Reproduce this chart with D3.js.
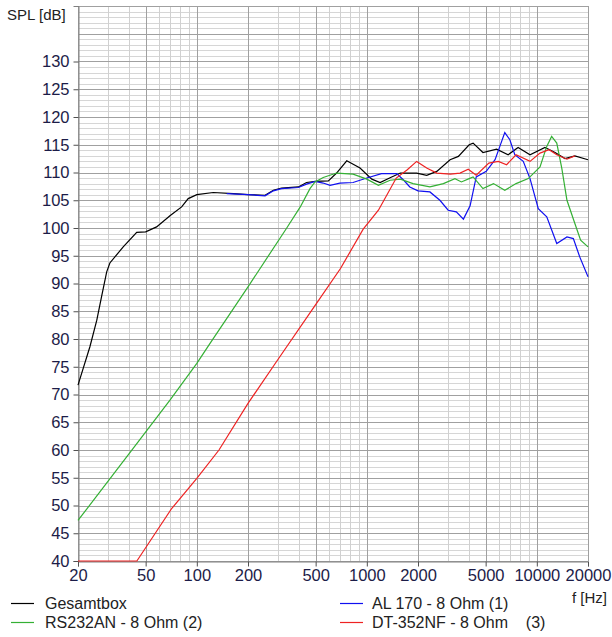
<!DOCTYPE html>
<html>
<head>
<meta charset="utf-8">
<script src="https://cdn.jsdelivr.net/npm/d3@7"></script>
<style>
  body { margin: 0; background: #fff; }
  svg text { font-family: "Liberation Sans", Arial, sans-serif; }
</style>
</head>
<body>
<svg id="chart" width="612" height="637"></svg>
<script>
// SPL frequency response chart

// tick labels
const xTicks = [20, 50, 100, 200, 500, 1000, 2000, 5000, 10000, 20000];
const yTicks = [40, 45, 50, 55, 60, 65, 70, 75, 80, 85, 90, 95, 100, 105, 110, 115, 120, 125, 130];

// Gesamtbox (black)
const fBlack = [20, 23.5, 25.8, 27.5, 29.5, 30.8, 36.9, 44.3, 50, 58, 69.5, 81.4, 89, 100, 125, 164, 200, 252, 282,
  315, 396, 442, 500, 594, 664, 762, 912, 1070, 1197, 1400, 1575, 1964, 2250, 2580, 3088, 3456, 4000, 4220,
  4820, 5800, 6780, 7760, 9120, 11160, 12800, 14640, 16740, 20000];
const dbBlack = [71.7, 78.6, 83.4, 87.6, 92.1, 93.7, 96.6, 99.2, 99.3, 100.2, 102.2, 103.8, 105.3, 106.0, 106.4, 106.2, 106.0, 105.9, 106.8,
  107.2, 107.4, 108.2, 108.4, 108.5, 109.9, 112.1, 110.8, 108.8, 108.2, 109.2, 109.9, 109.9, 109.5, 110.2, 112.3, 112.9, 115.0, 115.3,
  113.6, 114.2, 113.2, 114.5, 113.2, 114.5, 113.6, 112.5, 113.0, 112.3];

// AL 170 - 8 Ohm (1) (blue)
const fBlue = [150, 200, 252, 282, 315, 396, 442, 496, 554, 608, 694, 830, 1000, 1220, 1500, 1650, 1790, 2000, 2350,
  2690, 3010, 3360, 3700, 4050, 4400, 5040, 5680, 6060, 6480, 6940, 7420, 8320, 9120, 10200, 11440, 13100,
  15040, 16400, 17880, 20000];
const dbBlue = [106.2, 106.0, 105.8, 106.7, 107.1, 107.3, 107.9, 108.4, 108.1, 107.7, 108.1, 108.2, 109.0, 109.8, 109.8, 108.6, 107.4, 106.7, 106.5,
  105.0, 103.2, 102.9, 101.6, 104.0, 109.2, 110.2, 112.3, 114.7, 117.2, 115.9, 113.2, 112.0, 108.9, 103.5, 102.0, 97.2,
  98.4, 98.1, 94.8, 91.2];

// RS232AN - 8 Ohm (2) (green)
const fGreen = [20, 42, 69.5, 100, 119.6, 200, 338, 406, 463, 496, 554, 664, 830, 1000, 1170, 1370, 1575, 1870, 2350,
  2820, 3300, 3600, 4000, 4220, 4820, 5560, 6480, 7550, 8900, 10440, 11440, 12220, 13100, 14020, 15040,
  16740, 18100, 20000];
const dbGreen = [47.3, 60.2, 69.0, 75.6, 79.2, 89.4, 100.0, 103.8, 107.1, 108.3, 109.1, 109.9, 109.7, 108.8, 107.7, 108.6, 108.8, 108.0, 107.4,
  108.0, 108.9, 108.3, 108.9, 109.2, 107.1, 108.0, 106.8, 108.0, 108.9, 111.0, 114.7, 116.5, 115.3, 110.8, 105.0,
  100.8, 97.8, 96.6];

// DT-352NF - 8 Ohm (3) (red)
const fRed = [20, 44.4, 71.3, 100, 135, 200, 300, 500, 700, 952, 1170, 1490, 1730, 1964, 2250, 2580, 3100, 3534,
  3950, 4400, 5220, 5940, 6640, 7550, 9120, 10440, 11800, 13100, 15040, 16740];
const dbRed = [40, 40, 49.5, 54.9, 60.0, 68.4, 76.3, 86.2, 92.7, 99.8, 103.2, 109.0, 110.5, 112.0, 110.8, 109.9, 109.7, 109.9,
  110.6, 109.5, 111.7, 112.0, 111.4, 113.2, 112.0, 113.5, 114.1, 113.2, 112.4, 113.0];

const seriesNames = ['Gesamtbox', 'AL 170 - 8 Ohm (1)', 'RS232AN - 8 Ohm (2)', 'DT-352NF - 8 Ohm    (3)'];
const seriesColors = ['#000000', '#1010f0', '#34b034', '#ee2222'];

const svg = d3.select('#chart');
const plotL = 78, plotR = 588, plotT = 6, plotB = 561;

const x = d3.scaleLog().domain([20, 20000]).range([plotL, plotR]);
const y = d3.scaleLinear().domain([40, 140]).range([plotB, plotT]);

// grid — minor lines first, then major
const minorX = [];
for (let dec = 10; dec <= 10000; dec *= 10)
  for (let k = 1; k <= 9; k++) { const v = k * dec; if (v >= 20 && v <= 20000) minorX.push(v); }
const minorY = d3.range(40, 141, 1);
const majorY = d3.range(40, 141, 5);

const grid = svg.append('g').attr('shape-rendering', 'crispEdges');
grid.selectAll('.hmin').data(minorY).enter().append('line')
  .attr('x1', plotL).attr('x2', plotR)
  .attr('y1', d => Math.round(y(d)) + 0.5).attr('y2', d => Math.round(y(d)) + 0.5)
  .attr('stroke', '#d6d6d6');
grid.selectAll('.vmin').data(minorX).enter().append('line')
  .attr('y1', plotT).attr('y2', plotB)
  .attr('x1', d => Math.round(x(d)) + 0.5).attr('x2', d => Math.round(x(d)) + 0.5)
  .attr('stroke', '#d0d0d0');
grid.selectAll('.hmaj').data(majorY).enter().append('line')
  .attr('x1', plotL).attr('x2', plotR)
  .attr('y1', d => Math.round(y(d)) + 0.5).attr('y2', d => Math.round(y(d)) + 0.5)
  .attr('stroke', '#a0a0a0');
grid.selectAll('.vmaj').data(xTicks).enter().append('line')
  .attr('y1', plotT).attr('y2', plotB)
  .attr('x1', d => Math.round(x(d)) + 0.5).attr('x2', d => Math.round(x(d)) + 0.5)
  .attr('stroke', '#a0a0a0');

// axes
const yAxis = svg.append('g').attr('transform', `translate(${plotL + 0.5},0)`)
  .call(d3.axisLeft(y).tickValues(yTicks).tickSize(5).tickPadding(4).tickFormat(d3.format('d')));
const xAxis = svg.append('g').attr('transform', `translate(0,${plotB + 0.5})`)
  .call(d3.axisBottom(x).tickValues(xTicks).tickSize(5).tickPadding(3).tickFormat(d3.format('d')));
[yAxis, xAxis].forEach(a => {
  a.select('.domain').attr('stroke', '#808080');
  a.selectAll('.tick line').attr('stroke', '#505050');
  a.selectAll('.tick text').attr('fill', '#1c1c48').style('font-size', '16.5px');
});

// curves
const line = d3.line().x(d => x(d[0])).y(d => y(d[1]));
const curves = [
  d3.zip(fBlack, dbBlack),
  d3.zip(fBlue, dbBlue),
  d3.zip(fGreen, dbGreen),
  d3.zip(fRed, dbRed)
];
svg.append('g').selectAll('path').data(curves).enter().append('path')
  .attr('d', line)
  .attr('fill', 'none')
  .attr('stroke', (d, i) => seriesColors[i])
  .attr('stroke-width', 1.2);

// titles
svg.append('text').attr('x', 7).attr('y', 20).text('SPL [dB]')
  .attr('fill', '#222').style('font-size', '15px');
svg.append('text').attr('x', 607).attr('y', 603).attr('text-anchor', 'end').text('f [Hz]')
  .attr('fill', '#222').style('font-size', '15px');

// legend: two columns, two rows
const legend = svg.append('g');
const legendPos = [[11, 603], [340, 603], [11, 622], [340, 622]];
seriesNames.forEach((name, i) => {
  const [lx, ly] = legendPos[i];
  legend.append('line').attr('x1', lx).attr('x2', lx + 23).attr('y1', ly + 0.5).attr('y2', ly + 0.5)
    .attr('stroke', seriesColors[i]).attr('stroke-width', 1.2);
  legend.append('text').attr('x', lx + (i % 2 ? 32 : 34)).attr('y', ly + 6).text(name)
    .attr('fill', '#222').style('font-size', '16px').style('white-space', 'pre');
});
</script>
</body>
</html>
